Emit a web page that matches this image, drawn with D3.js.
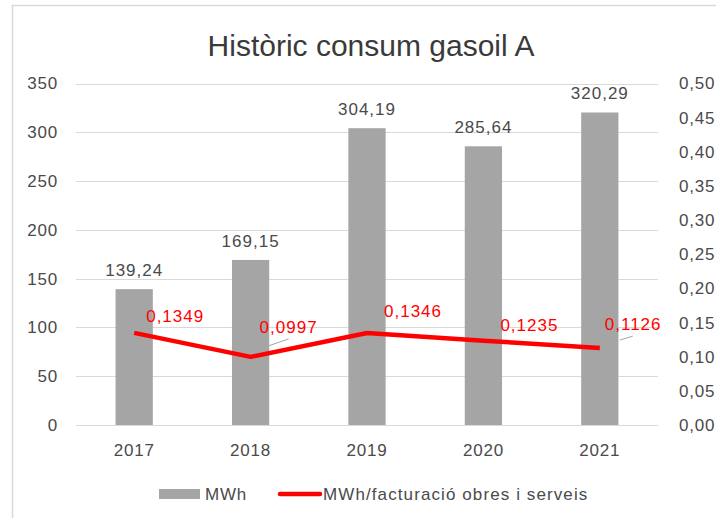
<!DOCTYPE html>
<html>
<head>
<meta charset="utf-8">
<script src="https://cdn.jsdelivr.net/npm/d3@7"></script>
<style>
  body { margin: 0; background: #fff; }
  svg { display: block; font-family: "Liberation Sans", Arial, sans-serif; }
</style>
</head>
<body>
<svg id="chart" width="716" height="518"></svg>
<script>
// chart data
var years = ["2017", "2018", "2019", "2020", "2021"];
var mwh = [139.24, 169.15, 304.19, 285.64, 320.29];
var ratio = [0.1349, 0.0997, 0.1346, 0.1235, 0.1126];
var leftTicks = [0, 50, 100, 150, 200, 250, 300, 350];
var rightTicks = [0, 0.05, 0.10, 0.15, 0.20, 0.25, 0.30, 0.35, 0.40, 0.45, 0.50];

// label nudges for the red line (moved by hand in the original)
var lineLabelNudge = [[12, -17], [9, -30], [17, -22], [17, -16], [5, -24]];

var svg = d3.select("#chart");
var plotL = 76, plotR = 658, plotT = 83.5, plotB = 425;
var txtCol = "#4a4a4a";

var loc = d3.formatLocale({decimal: ",", thousands: ".", grouping: [3], currency: ["", "€"]});
var f2 = loc.format(".2f"), f4 = loc.format(".4f"), fInt = loc.format("d");

// frame
svg.append("rect")
  .attr("x", 12.5).attr("y", 5.5)
  .attr("width", 720).attr("height", 530)
  .attr("fill", "#fff").attr("stroke", "#d9d9d9").attr("stroke-width", 1.5);

var x = d3.scaleBand().domain(years).range([plotL, plotR]).paddingInner(0.68).paddingOuter(0.34);
var y = d3.scaleLinear().domain([0, 350]).range([plotB, plotT]);
var y2 = d3.scaleLinear().domain([0, 0.5]).range([plotB, plotT]);

// title
svg.append("text")
  .attr("x", 371).attr("y", 56)
  .attr("text-anchor", "middle")
  .attr("font-size", 30).attr("fill", "#3a3a3a")
  .text("Històric consum gasoil A");

// gridlines
svg.append("g").selectAll("line")
  .data(leftTicks)
  .join("line")
  .attr("x1", plotL).attr("x2", plotR)
  .attr("y1", function(d) { return Math.round(y(d)) + 0.5; })
  .attr("y2", function(d) { return Math.round(y(d)) + 0.5; })
  .attr("stroke", "#d9d9d9").attr("stroke-width", 1.2);

function styleTicks(g) {
  g.select(".domain").remove();
  g.selectAll("text")
    .attr("font-size", 17).attr("letter-spacing", 0.8)
    .attr("fill", txtCol).attr("font-family", null);
}

// left axis
svg.append("g")
  .attr("transform", "translate(" + plotL + ",0)")
  .call(d3.axisLeft(y).tickValues(leftTicks).tickFormat(fInt).tickSize(0).tickPadding(18))
  .call(styleTicks);

// right axis
svg.append("g")
  .attr("transform", "translate(" + plotR + ",0)")
  .call(d3.axisRight(y2).tickValues(rightTicks).tickFormat(f2).tickSize(0).tickPadding(21))
  .call(styleTicks);

// bottom axis
svg.append("g")
  .attr("transform", "translate(0," + plotB + ")")
  .call(d3.axisBottom(x).tickSize(0).tickPadding(19))
  .call(styleTicks);

// bars
svg.append("g").selectAll("rect")
  .data(mwh)
  .join("rect")
  .attr("x", function(d, i) { return x(years[i]); })
  .attr("y", function(d) { return y(d); })
  .attr("width", x.bandwidth())
  .attr("height", function(d) { return plotB - y(d); })
  .attr("fill", "#a5a5a5");

svg.append("g").selectAll("text")
  .data(mwh)
  .join("text")
  .attr("x", function(d, i) { return x(years[i]) + x.bandwidth() / 2; })
  .attr("y", function(d) { return y(d) - 13; })
  .attr("text-anchor", "middle")
  .attr("font-size", 17).attr("letter-spacing", 1).attr("fill", txtCol)
  .text(function(d) { return f2(d); });

// red line
var cx = function(i) { return x(years[i]) + x.bandwidth() / 2; };
var line = d3.line()
  .x(function(d, i) { return cx(i); })
  .y(function(d) { return y2(d); });

svg.append("path")
  .datum(ratio)
  .attr("d", line)
  .attr("fill", "none")
  .attr("stroke", "#ff0000")
  .attr("stroke-width", 4.5)
  .attr("stroke-linejoin", "round");

// leader lines for the labels that were dragged away
[1, 4].forEach(function(i) {
  svg.append("line")
    .attr("x1", cx(i) + (i == 1 ? 15 : 20)).attr("y1", y2(ratio[i]) - (i == 1 ? 10 : 8))
    .attr("x2", cx(i) + (i == 1 ? 38 : 33)).attr("y2", y2(ratio[i]) - (i == 1 ? 18 : 12))
    .attr("stroke", "#a6a6a6").attr("stroke-width", 1);
});

svg.append("g").selectAll("text")
  .data(ratio)
  .join("text")
  .attr("x", function(d, i) { return cx(i) + lineLabelNudge[i][0]; })
  .attr("y", function(d, i) { return y2(d) + lineLabelNudge[i][1] + 6; })
  .attr("font-size", 17).attr("letter-spacing", 1).attr("fill", "#ff0000")
  .text(function(d) { return f4(d); });

// legend
var lg = svg.append("g");
lg.append("rect").attr("x", 159).attr("y", 489).attr("width", 41).attr("height", 10).attr("fill", "#a5a5a5");
lg.append("text").attr("x", 205).attr("y", 500).attr("font-size", 17).attr("letter-spacing", 0.8)
  .attr("fill", txtCol).text("MWh");
lg.append("line").attr("x1", 280).attr("x2", 320).attr("y1", 494).attr("y2", 494)
  .attr("stroke", "#ff0000").attr("stroke-width", 4.5).attr("stroke-linecap", "round");
lg.append("text").attr("x", 323).attr("y", 500).attr("font-size", 17).attr("letter-spacing", 1.1)
  .attr("fill", txtCol).text("MWh/facturació obres i serveis");
</script>
</body>
</html>
